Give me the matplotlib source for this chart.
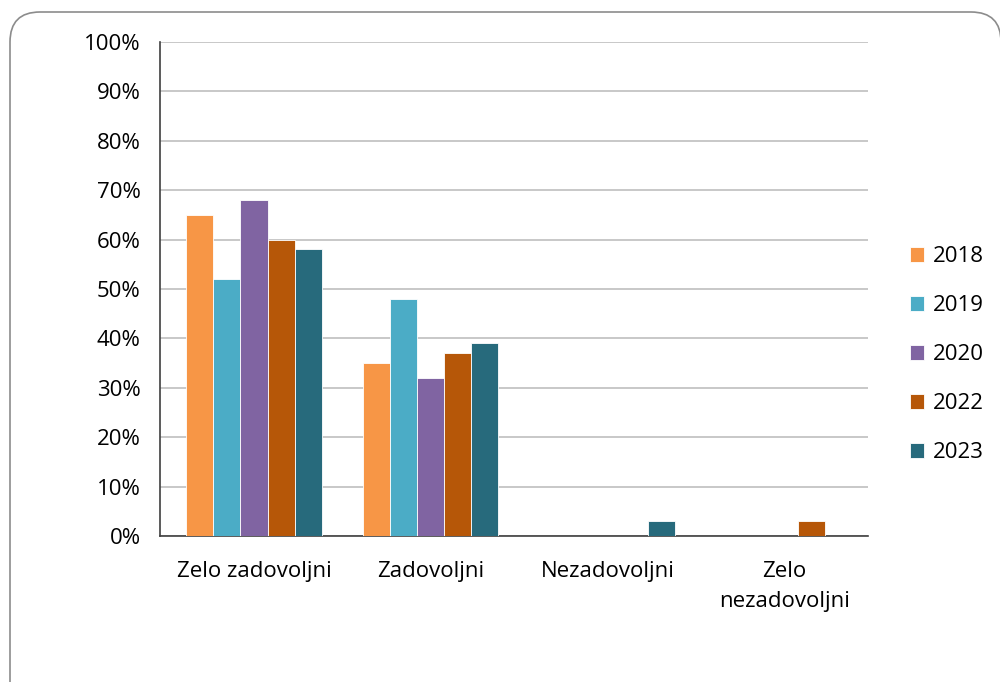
import matplotlib.pyplot as plt
import numpy as np
from matplotlib.patches import FancyBboxPatch
from matplotlib.transforms import IdentityTransform

plt.rcParams['font.family'] = ['Open Sans', 'DejaVu Sans']

categories = ["Zelo zadovoljni", "Zadovoljni", "Nezadovoljni", "Zelo\nnezadovoljni"]
years = ["2018", "2019", "2020", "2022", "2023"]
values = {
    "2018": [65, 35, 0, 0],
    "2019": [52, 48, 0, 0],
    "2020": [68, 32, 0, 0],
    "2022": [60, 37, 0, 3],
    "2023": [58, 39, 3, 0],
}
colors = ["#F79646", "#4BACC6", "#8064A2", "#B65708", "#276A7C"]

fig = plt.figure(figsize=(10, 6.82), dpi=100)

# rounded outer frame (pixel coords)
frame = FancyBboxPatch((10, -30), 991, 700, boxstyle="round,pad=0,rounding_size=30",
                       transform=IdentityTransform(), facecolor="none", edgecolor="#8C8C8C",
                       linewidth=1.2, clip_on=False, zorder=-1)
fig.patches.append(frame)

ax = fig.add_axes([0.16, 0.2141, 0.708, 0.7243])
ax.set_facecolor("none")

x = np.arange(len(categories))
w = 0.153
for i, (yr, c) in enumerate(zip(years, colors)):
    ax.bar(x + (i - 2) * w, values[yr], width=w, color=c, edgecolor="white",
           linewidth=0.6, label=yr, zorder=3)

ax.set_xlim(-0.532, 3.475)
ax.set_ylim(0, 100)
ax.set_yticks(np.arange(0, 101, 10))
ax.set_yticklabels([f"{v}%" for v in range(0, 101, 10)])
ax.set_xticks(x)
ax.set_xticklabels(categories, linespacing=1.55)
ax.tick_params(axis="both", length=0, labelsize=16, colors="#000000")
ax.tick_params(axis="y", pad=14)
ax.tick_params(axis="x", pad=18)
ax.grid(axis="y", color="#BFBFBF", linewidth=1.2, zorder=0)
for s in ["top", "right"]:
    ax.spines[s].set_visible(False)
ax.spines["left"].set_color("#404040")
ax.spines["bottom"].set_color("#404040")
ax.spines["left"].set_linewidth(1.2)
ax.spines["bottom"].set_linewidth(1.2)

leg = ax.legend(loc="center left", bbox_to_anchor=(1.031, 0.367), frameon=False,
                fontsize=16, handlelength=0.65, handleheight=0.65,
                handletextpad=0.4, labelspacing=1.26)

fig.savefig("out.png", dpi=100)
